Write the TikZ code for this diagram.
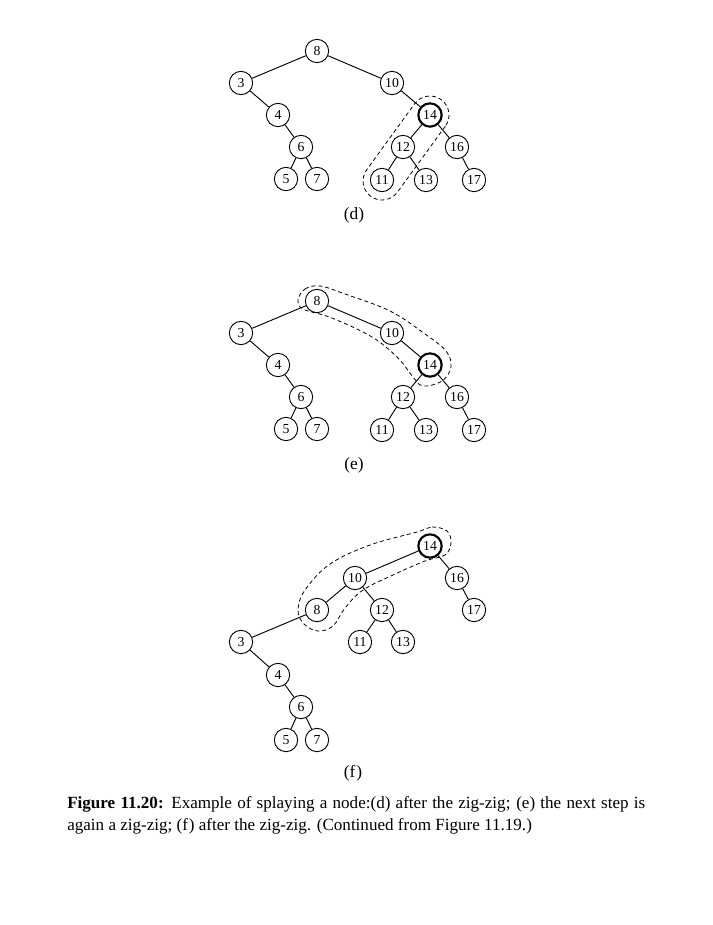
\documentclass[tikz,border=0pt]{standalone}
\usepackage{fontspec}
\setmainfont{Liberation Serif}
\begin{document}
\begin{tikzpicture}[x=0.75pt,y=-0.75pt,
  vtx/.style={circle,draw,line width=0.7pt,minimum size=17.5pt,inner sep=0pt,
    font=\fontsize{10.3}{12}\selectfont},
  cur/.style={vtx,line width=1.6pt},
  edge/.style={line width=0.7pt},
  hull/.style={line width=0.6pt,dash pattern=on 3pt off 2.2pt},
  sublabel/.style={font=\fontsize{13}{15}\selectfont,anchor=base},
  caption/.style={font=\fontsize{12.8}{15}\selectfont,anchor=base west,inner sep=0pt}]
\useasboundingbox (0,0) rectangle (713,925);

% the tree before the next zig-zig step (drawn twice, shifted down by #2)
\newcommand\beforestep[2]{%
  \node[vtx] (#1-8)  at (317,51+#2) {8};
  \node[vtx] (#1-3)  at (241,83+#2) {3};
  \node[vtx] (#1-10) at (392,83+#2) {10};
  \node[vtx] (#1-4)  at (278,115+#2) {4};
  \node[cur] (#1-14) at (430,115+#2) {14};
  \node[vtx] (#1-6)  at (301,147+#2) {6};
  \node[vtx] (#1-12) at (403,147+#2) {12};
  \node[vtx] (#1-16) at (457,147+#2) {16};
  \node[vtx] (#1-5)  at (286,179+#2) {5};
  \node[vtx] (#1-7)  at (317,179+#2) {7};
  \node[vtx] (#1-11) at (382,180+#2) {11};
  \node[vtx] (#1-13) at (426,180+#2) {13};
  \node[vtx] (#1-17) at (474,180+#2) {17};
  \draw[edge] (#1-8) -- (#1-3);
  \draw[edge] (#1-8) -- (#1-10);
  \draw[edge] (#1-3) -- (#1-4);
  \draw[edge] (#1-4) -- (#1-6);
  \draw[edge] (#1-6) -- (#1-5);
  \draw[edge] (#1-6) -- (#1-7);
  \draw[edge] (#1-10) -- (#1-14);
  \draw[edge] (#1-14) -- (#1-12);
  \draw[edge] (#1-14) -- (#1-16);
  \draw[edge] (#1-12) -- (#1-11);
  \draw[edge] (#1-12) -- (#1-13);
  \draw[edge] (#1-16) -- (#1-17);
}

% (d)
\beforestep{d}{0}
\draw[hull] (430,115) ++(36:19) -- ++(126:81.6)
  arc[start angle=36,end angle=216,radius=19] -- ++(-54:81.6)
  arc[start angle=216,end angle=396,radius=19] -- cycle;
\node[sublabel] (lab-d) at (354,219) {(d)};

% (e)
\beforestep{e}{250}
\draw[hull] plot[smooth cycle,tension=0.6] coordinates {
  (298,300) (305,289) (320,286) (345,294) (390,311) (425,334) (446,351)
  (451,367) (442,381) (423,386) (413,377) (398,358) (372,337) (332,318) (303,309)};
\node[sublabel] (lab-e) at (354,469) {(e)};

% (f)
\node[cur] (f-14) at (430,546) {14};
\node[vtx] (f-10) at (355,578) {10};
\node[vtx] (f-16) at (457,578) {16};
\node[vtx] (f-8)  at (317,610) {8};
\node[vtx] (f-12) at (382,610) {12};
\node[vtx] (f-17) at (474,610) {17};
\node[vtx] (f-3)  at (241,642) {3};
\node[vtx] (f-11) at (360,642) {11};
\node[vtx] (f-13) at (403,642) {13};
\node[vtx] (f-4)  at (278,675) {4};
\node[vtx] (f-6)  at (301,707) {6};
\node[vtx] (f-5)  at (286,740) {5};
\node[vtx] (f-7)  at (317,740) {7};
\draw[edge] (f-14) -- (f-10);
\draw[edge] (f-14) -- (f-16);
\draw[edge] (f-16) -- (f-17);
\draw[edge] (f-10) -- (f-8);
\draw[edge] (f-10) -- (f-12);
\draw[edge] (f-12) -- (f-11);
\draw[edge] (f-12) -- (f-13);
\draw[edge] (f-8) -- (f-3);
\draw[edge] (f-3) -- (f-4);
\draw[edge] (f-4) -- (f-6);
\draw[edge] (f-6) -- (f-5);
\draw[edge] (f-6) -- (f-7);
\draw[hull] plot[smooth cycle,tension=0.6] coordinates {
  (417,532) (432,527) (447,531) (451,543) (445,555) (425,561) (393,575)
  (363,590) (345,608) (333,626) (318,631) (304,624) (298,610) (305,590)
  (330,564) (370,545)};
\node[sublabel] (lab-f) at (353,777) {(f\kern0.6pt)};

% caption, first line set full width
\node[caption] (cap1) at (67,808) {\makebox[433.5pt][s]{\textbf{Figure 11.20:} Example of splaying a node:(d) after the zig-zig; (e) the next step is}};
\node[caption] (cap2) at (67,830) {again a zig-zig; (f\kern0.6pt) after the zig-zig. (Continued from Figure 11.19.)};
\end{tikzpicture}
\end{document}
